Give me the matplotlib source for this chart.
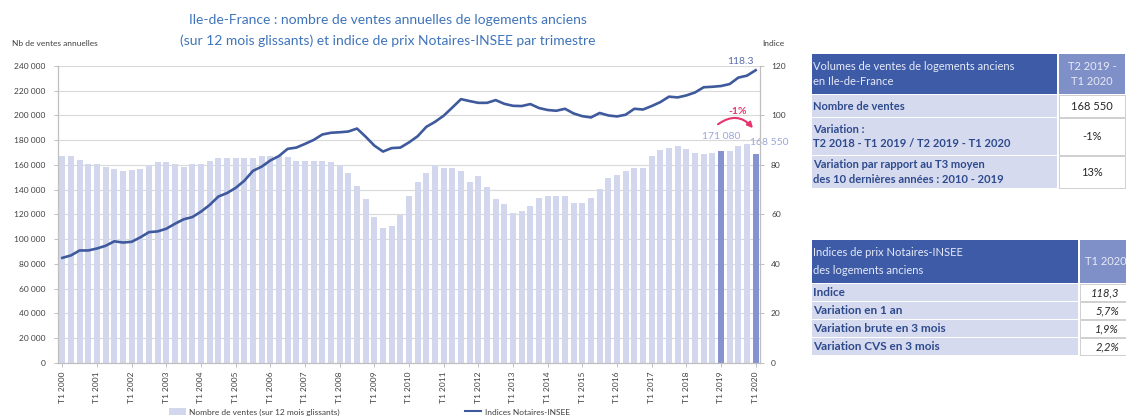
import matplotlib
matplotlib.use("Agg")
import matplotlib.pyplot as plt
from matplotlib.patches import Rectangle, Patch
from matplotlib.lines import Line2D
from matplotlib.ticker import FuncFormatter, MultipleLocator

plt.rcParams['font.family'] = ['Lato', 'DejaVu Sans']

# ---------------- data ----------------
years = list(range(2000, 2021))
quarter_labels = [f"T{q} {y}" for y in years for q in (1, 2, 3, 4)][:81]

ventes = [167000, 167500, 164000, 161000, 161000, 158000, 156500, 155000,
          155500, 157000, 160000, 162500, 162000, 160500, 158500, 160500,
          161000, 163000, 165500, 165500, 165500, 165500, 165500, 167000,
          167000, 167000, 166000, 163500, 163500, 163500, 163500, 162700,
          160000, 153800, 143200, 132700, 117800, 109200, 110300, 119700,
          135100, 146000, 153800, 160000, 157500, 157800, 154900, 146500,
          151000, 142400, 132700, 128400, 121100, 122700, 126800, 133500,
          134900, 134900, 134900, 129200, 129200, 133500, 140300, 149700,
          151900, 154900, 157800, 157800, 166800, 172400, 173500, 174900,
          172700, 169500, 168600, 169500, 171080, 171600, 174900, 176800,
          168550]

indice = [42.4, 43.4, 45.4, 45.4, 46.2, 47.3, 49.1, 48.6, 48.9, 50.7,
          52.8, 53.1, 54.2, 56.2, 58.0, 58.9, 61.1, 63.8, 67.2, 68.6,
          70.7, 73.6, 77.6, 79.3, 81.8, 83.6, 86.5, 87.0, 88.5, 90.1,
          92.3, 93.0, 93.2, 93.5, 94.7, 91.4, 87.8, 85.4, 86.8, 87.0,
          89.1, 91.6, 95.4, 97.4, 99.9, 103.2, 106.6, 105.8, 105.1, 105.1,
          106.2, 104.7, 103.9, 103.8, 104.6, 103.0, 102.2, 101.9, 102.7, 100.8,
          99.7, 99.2, 101.0, 100.0, 99.6, 100.3, 102.7, 102.4, 103.8, 105.4,
          107.6, 107.3, 108.1, 109.3, 111.4, 111.6, 111.9, 112.7, 115.3, 116.1,
          118.3]

highlight = ["T1 2019", "T1 2020"]

title_lines = ["Ile-de-France : nombre de ventes annuelles de logements anciens",
               "(sur 12 mois glissants) et indice de prix Notaires-INSEE par trimestre"]

table1_header = ["Volumes de ventes de logements anciens\nen Ile-de-France", "T2 2019 -\nT1 2020"]
table1_rows = ["Nombre de ventes",
               "Variation :\nT2 2018 - T1 2019 / T2 2019 - T1 2020",
               "Variation par rapport au T3 moyen\ndes 10 dernières années : 2010 - 2019"]
table1_vals = ["168 550", "-1%", "13%"]

table2_header = ["Indices de prix Notaires-INSEE\ndes logements anciens", "T1 2020"]
table2_rows = ["Indice", "Variation en 1 an", "Variation brute en 3 mois", "Variation CVS en 3 mois"]
table2_vals = ["118,3", "5,7%", "1,9%", "2,2%"]

# ---------------- figure ----------------
W, H = 1126, 419
fig = plt.figure(figsize=(W / 100, H / 100), dpi=100)

def fx(x):
    return x / W

def fy(y):
    return 1 - y / H

ax_left, ax_right, ax_top, ax_bot = 58, 760, 66, 362.7
ax = fig.add_axes([fx(ax_left), fy(ax_bot), fx(ax_right - ax_left), (ax_bot - ax_top) / H])
ax2 = ax.twinx()

light = "#d3d7ee"
dark = "#8593d0"
line_c = "#3f5a9c"
grid_c = "#d9d9d9"
spine_c = "#bfbfbf"

xs = list(range(len(ventes)))
colors = [dark if quarter_labels[i] in highlight else light for i in xs]
ax.bar(xs, ventes, width=0.68, color=colors, zorder=2)
ax.set_ylim(0, 240000)
ax.set_xlim(-0.5, len(ventes) - 0.5)
ax.yaxis.set_major_locator(MultipleLocator(20000))
ax.yaxis.set_major_formatter(FuncFormatter(lambda v, p: f"{int(v):,}".replace(",", " ")))
ax.grid(axis='y', color=grid_c, linewidth=0.8, zorder=0)
ax.set_axisbelow(True)

ax2.plot(xs, indice, color=line_c, linewidth=1.9, zorder=3)
ax2.set_ylim(0, 120)
ax2.yaxis.set_major_locator(MultipleLocator(20))

tick_pos = [i for i in xs if quarter_labels[i].startswith("T1")]
ax.set_xticks(tick_pos)
ax.set_xticklabels([quarter_labels[i] for i in tick_pos], rotation=90, fontsize=6, color="#404040")

for a in (ax, ax2):
    for s in a.spines.values():
        s.set_color(spine_c)
    a.spines['top'].set_visible(False)
    a.tick_params(colors="#404040", labelsize=6, length=3, width=0.7)
    a.tick_params(axis='both', color=spine_c)
ax.tick_params(axis='y', pad=6)
ax2.tick_params(axis='y', pad=5)

# annotations
i76 = quarter_labels.index("T1 2019")
i80 = quarter_labels.index("T1 2020")
ax.annotate(f"{ventes[i76]:,}".replace(",", " "), (i76, ventes[i76]), xytext=(0, 7),
            textcoords='offset points', ha='center', va='bottom', fontsize=7.5, color="#9aa6d8", zorder=5)
ax.annotate(f"{ventes[i80]:,}".replace(",", " "), (i80, ventes[i80]), xytext=(-4, 5),
            textcoords='offset points', ha='left', va='bottom', fontsize=7.5, color="#9aa6d8",
            zorder=5, annotation_clip=False)
ax2.annotate(f"{indice[i80]}", (i80, indice[i80]), xytext=(-11, 3),
             textcoords='offset points', ha='center', va='bottom', fontsize=7.5, color="#5a6ea8", zorder=5)
ax.annotate("", xy=(i80 - 0.1, 188000), xytext=(i76 - 0.6, 191500),
            arrowprops=dict(arrowstyle='-|>', color="#e8336b", lw=1.5,
                            connectionstyle='arc3,rad=-0.5', mutation_scale=8), zorder=6)
ax.text((i76 + i80) / 2 - 0.1, 199500, "-1%", color="#e8336b", fontsize=7.5,
        ha='center', va='bottom', fontweight='bold')

# titles & axis labels
fig.text(fx(388), fy(20), title_lines[0], ha='center', va='center', fontsize=10, color="#3f74ba")
fig.text(fx(388), fy(41), title_lines[1], ha='center', va='center', fontsize=10, color="#3f74ba")
fig.text(fx(12), fy(44), "Nb de ventes annuelles", ha='left', va='center', fontsize=6, color="#404040")
fig.text(fx(773), fy(44), "Indice", ha='center', va='center', fontsize=6, color="#404040")

# legend
handles = [Patch(facecolor=light, edgecolor='none'), Line2D([0], [0], color=line_c, lw=1.5)]
fig.legend(handles, ["Nombre de ventes (sur 12 mois glissants)", "Indices Notaires-INSEE"],
           loc='center left', bbox_to_anchor=(fx(165), fy(412)), ncol=2, frameon=False,
           fontsize=6, handlelength=2.0, handleheight=0.9, columnspacing=15,
           labelcolor="#404040", handletextpad=0.4, borderpad=0)

# ---------------- tables ----------------
hdr_dark = "#3d5ba6"
hdr_light = "#7f8fc8"
cell_lav = "#d6daef"
txt_hdr = "#e6eaf8"
txt_blue = "#2d4a8c"

def rect(x0, y0, x1, y1, fc, ec='none', lw=0.0):
    fig.add_artist(Rectangle((fx(x0), fy(y1)), fx(x1 - x0), (y1 - y0) / H,
                             transform=fig.transFigure, facecolor=fc, edgecolor=ec,
                             linewidth=lw, clip_on=False))

def text(x, y, s, **kw):
    fig.text(fx(x), fy(y), s, **kw)

# table 1
L0, L1, R0, R1 = 812, 1057, 1059, 1125
rows1 = [(54, 94), (95, 117), (118, 155), (156, 188)]
rect(L0, rows1[0][0], L1, rows1[0][1], hdr_dark)
rect(R0, rows1[0][0], R1, rows1[0][1], hdr_light)
text(L0 + 1, (rows1[0][0] + rows1[0][1]) / 2, table1_header[0], ha='left', va='center',
     fontsize=8, color=txt_hdr, linespacing=1.55)
text((R0 + R1) / 2, (rows1[0][0] + rows1[0][1]) / 2, table1_header[1], ha='center', va='center',
     fontsize=8, color=txt_hdr, linespacing=1.55)
for (y0, y1), lab, val in zip(rows1[1:], table1_rows, table1_vals):
    rect(L0, y0, L1, y1, cell_lav)
    rect(R0, y0, R1, y1, "white", ec="#c8c8c8", lw=0.6)
    text(L0 + 1, (y0 + y1) / 2, lab, ha='left', va='center', fontsize=8, color=txt_blue,
         fontweight='bold', linespacing=1.4)
    text((R0 + R1) / 2, (y0 + y1) / 2, val, ha='center', va='center', fontsize=8, color="#262626")

# table 2
L0, L1, R0, R1 = 812, 1078, 1080, 1132
rows2 = [(240, 283), (284, 301), (302, 319), (320, 337), (338, 355)]
rect(L0, rows2[0][0], L1, rows2[0][1], hdr_dark)
rect(R0, rows2[0][0], R1, rows2[0][1], hdr_light)
text(L0 + 1, (rows2[0][0] + rows2[0][1]) / 2, table2_header[0], ha='left', va='center',
     fontsize=8, color=txt_hdr, linespacing=1.7)
text(R0 + 5, (rows2[0][0] + rows2[0][1]) / 2, table2_header[1], ha='left', va='center',
     fontsize=8, color=txt_hdr)
for (y0, y1), lab, val in zip(rows2[1:], table2_rows, table2_vals):
    rect(L0, y0, L1, y1, cell_lav)
    rect(R0, y0, R1, y1, "white", ec="#c8c8c8", lw=0.6)
    text(L0 + 1, (y0 + y1) / 2, lab, ha='left', va='center', fontsize=8.5, color=txt_blue,
         fontweight='bold')
    text(1119, (y0 + y1) / 2, val, ha='right', va='center', fontsize=8, color="#262626",
         style='italic')

fig.savefig("out.png", dpi=100)
